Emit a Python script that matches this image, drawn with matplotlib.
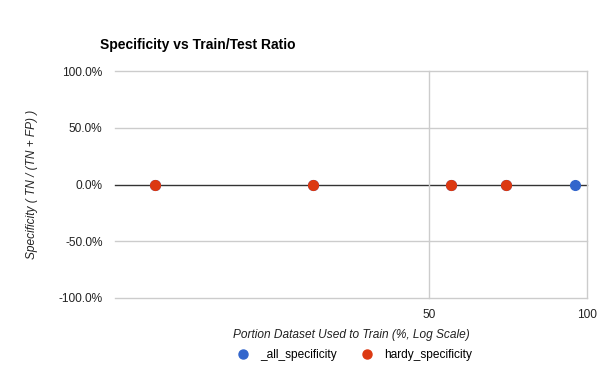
import matplotlib
matplotlib.use("Agg")
import matplotlib.pyplot as plt
from matplotlib.ticker import FixedLocator, NullLocator
from matplotlib.lines import Line2D

plt.rcParams['font.family'] = ['Liberation Sans', 'DejaVu Sans']

# data
train_pct = [15, 30, 55, 70, 95]
all_spec = [0.0, 0.0, 0.0, 0.0, 0.0]
hardy_pct = [15, 30, 55, 70]
hardy_spec = [0.0, 0.0, 0.0, 0.0]
y_ticks = [-1.0, -0.5, 0.0, 0.5, 1.0]
x_ticks = [50, 100]
series_names = ['_all_specificity', 'hardy_specificity']

blue = '#3366cc'
red = '#dc3912'

fig = plt.figure(figsize=(6, 3.71), dpi=100)
ax = fig.add_axes([115/600, 1-298/371, (587-115)/600, (298-71)/371])
ax.set_xscale('log')
ax.set_xlim(12.6, 100)
ax.set_ylim(-1.0, 1.0)

for y in y_ticks:
    ax.axhline(y, color='#333333' if y == 0 else '#cccccc', lw=1, zorder=1, clip_on=False)
for x in x_ticks:
    ax.axvline(x, color='#cccccc', lw=1, zorder=1, clip_on=False)

ax.plot(train_pct, all_spec, 'o', color=blue, ms=7, zorder=3, clip_on=False)
ax.plot(hardy_pct, hardy_spec, 'o', color=red, ms=7, zorder=4, clip_on=False)

for s in ax.spines.values():
    s.set_visible(False)
ax.xaxis.set_major_locator(FixedLocator(x_ticks))
ax.xaxis.set_minor_locator(NullLocator())
ax.set_xticklabels([str(x) for x in x_ticks])
ax.set_yticks(y_ticks)
ax.set_yticklabels(['%.1f%%' % (v*100) for v in y_ticks])
ax.tick_params(length=0, labelsize=8.6, colors='#222222', pad=9)
ax.tick_params(axis='x', pad=8)

fig.text(100/600, 1-45/371, 'Specificity vs Train/Test Ratio', fontsize=10,
         fontweight='bold', va='center', ha='left')
ax.set_xlabel('Portion Dataset Used to Train (%, Log Scale)', fontsize=8.6,
              style='italic', color='#222222', labelpad=6)
ax.set_ylabel('Specificity ( TN / (TN + FP) )', fontsize=8.6, style='italic',
              color='#222222', labelpad=15)

handles = [Line2D([], [], ls='none', marker='o', color=c, ms=6.5) for c in (blue, red)]
leg = fig.legend(handles, series_names, loc='center',
                 bbox_to_anchor=(354/600, 1-355/371), ncol=2,
                 frameon=False, fontsize=8.6, handletextpad=0.85, handlelength=1.2,
                 columnspacing=1.9)

fig.savefig('out.png', dpi=100)
